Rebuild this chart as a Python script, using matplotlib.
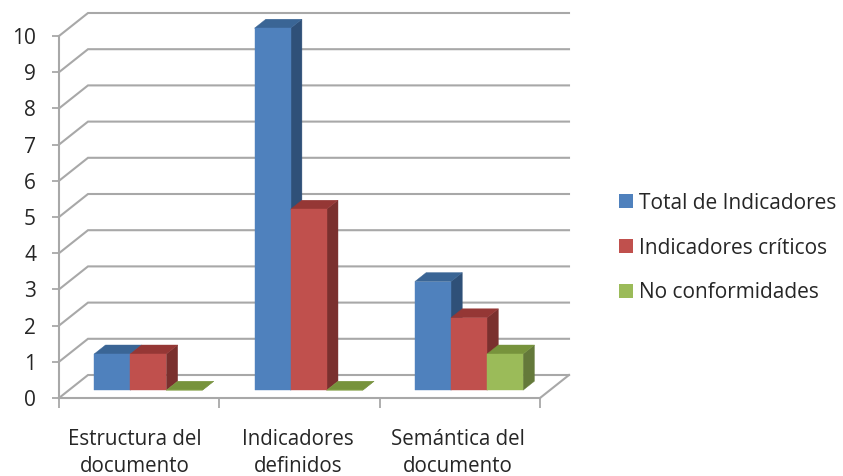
import matplotlib
matplotlib.use("Agg")
import matplotlib.pyplot as plt
from matplotlib.patches import Patch

categories = ["Estructura del\ndocumento", "Indicadores\ndefinidos", "Semántica del\ndocumento"]
series_names = ["Total de Indicadores", "Indicadores críticos", "No conformidades"]
total = [1, 10, 3]
criticos = [1, 5, 2]
no_conf = [0, 0, 1]
y_ticks = list(range(0, 11))

front = ["#4F81BD", "#C0504D", "#9BBB59"]
side = ["#2F5078", "#7A302E", "#64793A"]
top = ["#3A6595", "#953735", "#77933C"]
GRID = "#A8A8A8"
TXT = "#262626"
FONT = "Open Sans"

W, H = 843, 476
fig = plt.figure(figsize=(W / 100, H / 100), dpi=100, facecolor="white")
ax = fig.add_axes([59 / W, 1 - 398 / H, (540 - 59) / W, (398 - 36) / H])
ax.set_xlim(0, 3)
ax.set_ylim(0, 10)
ax.patch.set_visible(False)

# Oblique projection of the depth axis, in data units per unit depth
DX = 29 / (481 / 3)
DY = 23 / 36.2


def proj(x, y, d):
    return x + d * DX, y + d * DY


# Back wall and side wall grid
for v in y_ticks:
    xa, ya = proj(0, v, 0)
    xb, yb = proj(0, v, 1)
    xc, yc = proj(3, v, 1)
    ax.plot([xa, xb, xc], [ya, yb, yc], color=GRID, lw=1.5, clip_on=False, zorder=1,
            solid_joinstyle="miter")
# Floor right edge
xa, ya = proj(3, 0, 0)
xb, yb = proj(3, 0, 1)
ax.plot([xa, xb], [ya, yb], color=GRID, lw=1.5, clip_on=False, zorder=1)

# Bars
BAR_W = 0.225
GROUP_START = 0.158
D0, D1 = 0.34, 0.73
for s, vals in enumerate([total, criticos, no_conf]):
    for c, v in enumerate(vals):
        x0 = c + GROUP_START + s * BAR_W
        x1 = x0 + BAR_W
        z = 3 + s + c * 0.01
        pts_side = [proj(x1, 0, D0), proj(x1, 0, D1), proj(x1, v, D1), proj(x1, v, D0)]
        pts_top = [proj(x0, v, D0), proj(x1, v, D0), proj(x1, v, D1), proj(x0, v, D1)]
        pts_front = [proj(x0, 0, D0), proj(x1, 0, D0), proj(x1, v, D0), proj(x0, v, D0)]
        for pts, col in ((pts_side, side[s]), (pts_top, top[s]), (pts_front, front[s])):
            ax.fill(*zip(*pts), color=col, lw=0.3, clip_on=False, zorder=z)

# Axes
for name in ("top", "right"):
    ax.spines[name].set_visible(False)
for name in ("left", "bottom"):
    ax.spines[name].set_color(GRID)
    ax.spines[name].set_linewidth(1.5)
ax.set_yticks(y_ticks)
ax.set_yticklabels([str(v) for v in y_ticks], fontsize=15, family=FONT, color=TXT)
ax.tick_params(axis="y", length=5, width=1.3, color=GRID, pad=11.5)
ax.set_xticks([0, 1, 2, 3])
ax.set_xticklabels([])
ax.tick_params(axis="x", length=7, width=1.3, color=GRID)
for pos, lab in zip([0.47, 1.49, 2.49], categories):
    ax.annotate(lab, xy=(pos, 0), xycoords=("data", "axes fraction"), xytext=(0, -22),
                textcoords="offset points", ha="center", va="top", fontsize=14.8, family=FONT,
                color=TXT, linespacing=1.38, annotation_clip=False)

# Legend
handles = [Patch(facecolor=c, edgecolor="none", label=n) for c, n in zip(front, series_names)]
fig.legend(handles=handles, loc="center left", bbox_to_anchor=(619 / W, 1 - 248 / H), frameon=False,
           prop={"family": FONT, "size": 15}, labelcolor=TXT, handlelength=0.65, handleheight=0.65,
           handletextpad=0.29, labelspacing=1.14, borderpad=0, borderaxespad=0)

fig.savefig("out.png", dpi=100, facecolor="white")
